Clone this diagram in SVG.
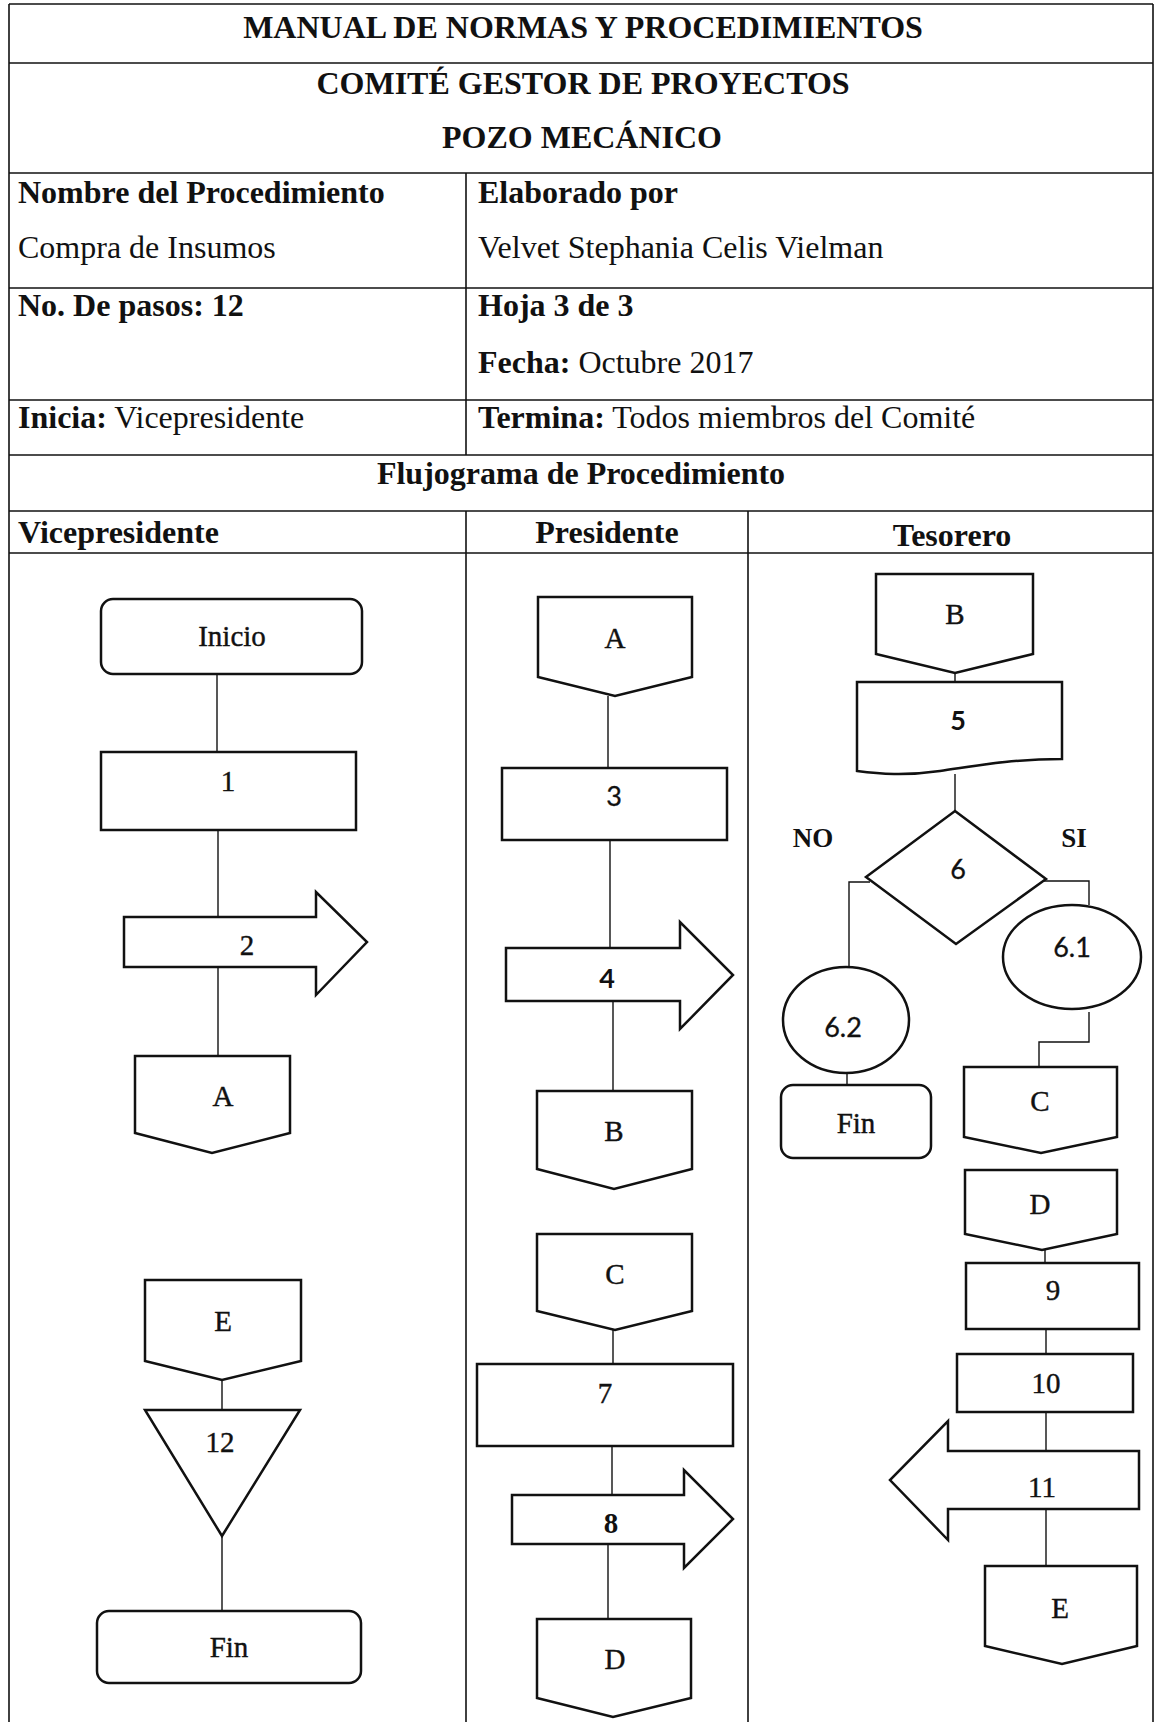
<svg xmlns="http://www.w3.org/2000/svg" width="1156" height="1722" viewBox="0 0 1156 1722">
<style>
.grid{stroke:#111;stroke-width:1.6;fill:none}
.shp{fill:#fff;stroke:#111;stroke-width:2.5;stroke-linejoin:miter}
.con{stroke:#111;stroke-width:1.4;fill:none}
.h{font-family:"Liberation Serif","Times New Roman",serif;font-weight:bold;font-size:32px;fill:#111}
.r{font-family:"Liberation Serif","Times New Roman",serif;font-size:32px;fill:#111}
.bt{font-weight:bold}
.f{font-family:"Liberation Serif","Times New Roman",serif;font-size:29px;fill:#111;stroke:#111;stroke-width:0.4;text-anchor:middle}
.fb{font-family:"Liberation Serif","Times New Roman",serif;font-size:29px;font-weight:bold;fill:#111;text-anchor:middle}
.s{font-family:Lato,"Liberation Sans",sans-serif;font-size:27px;fill:#111;stroke:#111;stroke-width:0.3;text-anchor:middle}
.sb{font-family:Lato,"Liberation Sans",sans-serif;font-size:27px;font-weight:bold;fill:#111;text-anchor:middle}
.c{text-anchor:middle}
</style>
<rect x="0" y="0" width="1156" height="1722" fill="#fff"/>
<g id="table">
<line class="grid" x1="9" y1="4" x2="1153" y2="4"/>
<line class="grid" x1="9" y1="4" x2="9" y2="1722"/>
<line class="grid" x1="1153" y1="4" x2="1153" y2="1722"/>
<line class="grid" x1="9" y1="63" x2="1153" y2="63"/>
<line class="grid" x1="9" y1="173" x2="1153" y2="173"/>
<line class="grid" x1="9" y1="288" x2="1153" y2="288"/>
<line class="grid" x1="9" y1="400" x2="1153" y2="400"/>
<line class="grid" x1="9" y1="455" x2="1153" y2="455"/>
<line class="grid" x1="9" y1="511" x2="1153" y2="511"/>
<line class="grid" x1="9" y1="553" x2="1153" y2="553"/>
<line class="grid" x1="466" y1="173" x2="466" y2="455"/>
<line class="grid" x1="466" y1="511" x2="466" y2="1722"/>
<line class="grid" x1="748" y1="511" x2="748" y2="1722"/>
<text class="h c" x="583" y="38">MANUAL DE NORMAS Y PROCEDIMIENTOS</text>
<text class="h c" x="583" y="94">COMITÉ GESTOR DE PROYECTOS</text>
<text class="h c" x="582" y="148">POZO MECÁNICO</text>
<text class="h" x="18" y="203">Nombre del Procedimiento</text>
<text class="h" x="478" y="203">Elaborado por</text>
<text class="r" x="18" y="258">Compra de Insumos</text>
<text class="r" x="478" y="258">Velvet Stephania Celis Vielman</text>
<text class="h" x="18" y="316">No. De pasos: 12</text>
<text class="h" x="478" y="316">Hoja 3 de 3</text>
<text class="r" x="478" y="373"><tspan class="bt">Fecha:</tspan> Octubre 2017</text>
<text class="r" x="18" y="428"><tspan class="bt">Inicia:</tspan> Vicepresidente</text>
<text class="r" x="478" y="428"><tspan class="bt">Termina:</tspan> Todos miembros del Comité</text>
<text class="h c" x="581" y="484">Flujograma de Procedimiento</text>
<text class="h" x="18" y="543">Vicepresidente</text>
<text class="h c" x="607" y="543">Presidente</text>
<text class="h c" x="952" y="546">Tesorero</text>
</g>
<g id="connectors">
<line class="con" x1="217" y1="674" x2="217" y2="752"/>
<line class="con" x1="218" y1="830" x2="218" y2="917"/>
<line class="con" x1="218" y1="967" x2="218" y2="1056"/>
<line class="con" x1="222" y1="1380" x2="222" y2="1410"/>
<line class="con" x1="222" y1="1536" x2="222" y2="1611"/>
<line class="con" x1="608" y1="696" x2="608" y2="768"/>
<line class="con" x1="610" y1="840" x2="610" y2="948"/>
<line class="con" x1="613" y1="1001" x2="613" y2="1091"/>
<line class="con" x1="613" y1="1330" x2="613" y2="1364"/>
<line class="con" x1="612" y1="1446" x2="612" y2="1495"/>
<line class="con" x1="608" y1="1544" x2="608" y2="1619"/>
<line class="con" x1="955" y1="673" x2="955" y2="682"/>
<line class="con" x1="955" y1="774" x2="955" y2="811"/>
<polyline class="con" points="870,882 849,882 849,967"/>
<polyline class="con" points="1043,881 1089,881 1089,905"/>
<line class="con" x1="847" y1="1073" x2="847" y2="1085"/>
<polyline class="con" points="1089,1012 1089,1042 1039,1042 1039,1067"/>
<line class="con" x1="1045" y1="1250" x2="1045" y2="1263"/>
<line class="con" x1="1046" y1="1329" x2="1046" y2="1354"/>
<line class="con" x1="1046" y1="1412" x2="1046" y2="1451"/>
<line class="con" x1="1046" y1="1509" x2="1046" y2="1566"/>
</g>
<g id="n-inicio"><rect class="shp" x="101" y="599" width="261" height="75" rx="12"/><text class="f" x="232" y="646">Inicio</text></g>
<g id="n-1"><rect class="shp" x="101" y="752" width="255" height="78"/><text class="f" x="228" y="791">1</text></g>
<g id="n-2"><path class="shp" d="M124,917 L316,917 L316,892 L367,942 L316,995 L316,967 L124,967 Z"/><text class="f" x="247" y="955">2</text></g>
<g id="n-a1"><path class="shp" d="M135,1056 L290,1056 L290,1133 L212,1153 L135,1133 Z"/><text class="f" x="223" y="1106">A</text></g>
<g id="n-e1"><path class="shp" d="M145,1280 L301,1280 L301,1361 L222,1380 L145,1361 Z"/><text class="f" x="223" y="1331">E</text></g>
<g id="n-12"><path class="shp" d="M145,1410 L300,1410 L222,1536 Z"/><text class="f" x="220" y="1452">12</text></g>
<g id="n-fin1"><rect class="shp" x="97" y="1611" width="264" height="72" rx="12"/><text class="f" x="229" y="1657">Fin</text></g>
<g id="n-a2"><path class="shp" d="M538,597 L692,597 L692,677 L615,696 L538,677 Z"/><text class="f" x="615" y="648">A</text></g>
<g id="n-3"><rect class="shp" x="502" y="768" width="225" height="72"/><text class="s" x="614" y="806">3</text></g>
<g id="n-4"><path class="shp" d="M506,948 L680,948 L680,922 L733,975 L680,1029 L680,1001 L506,1001 Z"/><text class="sb" x="607" y="988">4</text></g>
<g id="n-b1"><path class="shp" d="M537,1091 L692,1091 L692,1169 L614,1189 L537,1169 Z"/><text class="f" x="614" y="1141">B</text></g>
<g id="n-c1"><path class="shp" d="M537,1234 L692,1234 L692,1311 L615,1330 L537,1311 Z"/><text class="f" x="615" y="1284">C</text></g>
<g id="n-7"><rect class="shp" x="477" y="1364" width="256" height="82"/><text class="f" x="605" y="1403">7</text></g>
<g id="n-8"><path class="shp" d="M512,1495 L684,1495 L684,1470 L733,1519 L684,1568 L684,1544 L512,1544 Z"/><text class="fb" x="611" y="1533">8</text></g>
<g id="n-d1"><path class="shp" d="M537,1619 L691,1619 L691,1698 L613,1717 L537,1698 Z"/><text class="f" x="615" y="1669">D</text></g>
<g id="n-b2"><path class="shp" d="M876,574 L1033,574 L1033,654 L955,673 L876,654 Z"/><text class="f" x="955" y="624">B</text></g>
<g id="n-5"><path class="shp" d="M857,682 L1062,682 L1062,759 C1010,759 975,766 940,771 C905,776 880,774 857,771 Z"/><text class="sb" x="958" y="730">5</text></g>
<g id="n-6"><path class="shp" d="M955,811 L1046,879 L956,944 L866,877 Z"/><text class="s" x="958" y="879">6</text></g>
<g id="lbl-no"><text class="fb" x="813" y="847" style="font-size:27px">NO</text></g>
<g id="lbl-si"><text class="fb" x="1074" y="847" style="font-size:27px">SI</text></g>
<g id="n-61"><ellipse class="shp" cx="1072" cy="957" rx="69" ry="52"/><text class="s" x="1072" y="957">6.1</text></g>
<g id="n-62"><ellipse class="shp" cx="846" cy="1020" rx="63" ry="53"/><text class="s" x="843" y="1037">6.2</text></g>
<g id="n-fin2"><rect class="shp" x="781" y="1085" width="150" height="73" rx="12"/><text class="f" x="856" y="1133">Fin</text></g>
<g id="n-c2"><path class="shp" d="M964,1067 L1117,1067 L1117,1137 L1041,1153 L964,1137 Z"/><text class="f" x="1040" y="1111">C</text></g>
<g id="n-d2"><path class="shp" d="M965,1170 L1117,1170 L1117,1234 L1042,1250 L965,1234 Z"/><text class="f" x="1040" y="1214">D</text></g>
<g id="n-9"><rect class="shp" x="966" y="1263" width="173" height="66"/><text class="f" x="1053" y="1300">9</text></g>
<g id="n-10"><rect class="shp" x="957" y="1354" width="176" height="58"/><text class="f" x="1046" y="1393">10</text></g>
<g id="n-11"><path class="shp" d="M1139,1451 L948,1451 L948,1421 L890,1480 L948,1540 L948,1509 L1139,1509 Z"/><text class="f" x="1042" y="1497">11</text></g>
<g id="n-e2"><path class="shp" d="M985,1566 L1137,1566 L1137,1646 L1062,1664 L985,1646 Z"/><text class="f" x="1060" y="1618">E</text></g>
</svg>
